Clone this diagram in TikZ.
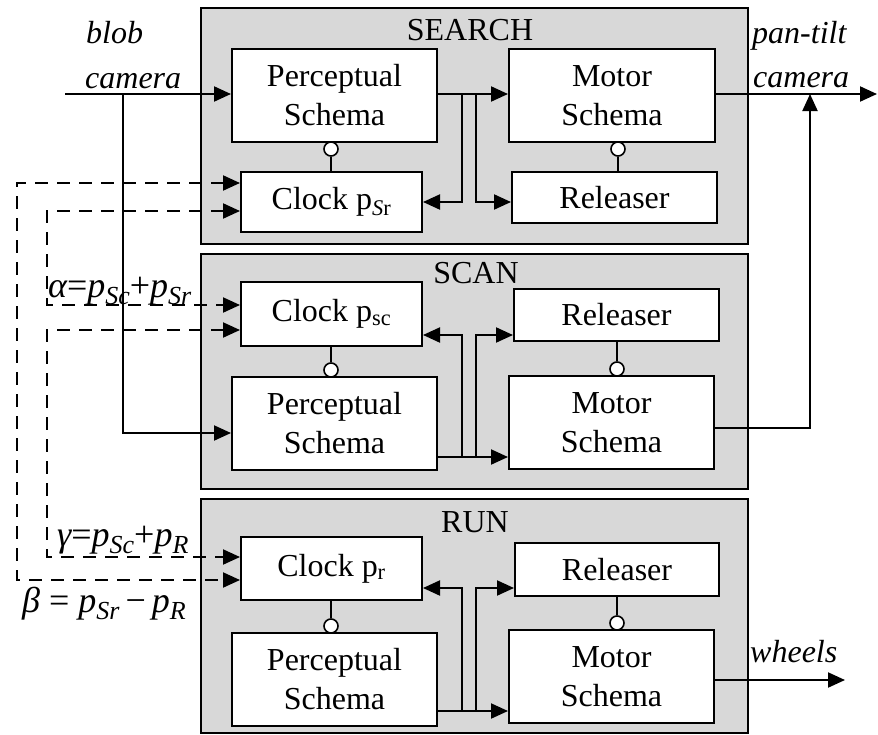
\documentclass[tikz,border=0pt]{standalone}
\usepackage{fontspec}
\setmainfont{Liberation Serif}
\usetikzlibrary{arrows.meta}
\definecolor{panelgray}{RGB}{216,216,216}
% lowered index used in the coupling formulas
\newcommand\lowidx[1]{\raisebox{-0.22em}{\fontsize{26}{26}\selectfont #1}}

\begin{document}
\begin{tikzpicture}[x=1pt,y=-1pt,
  every node/.style={font=\fontsize{32}{39}\selectfont},
  panel/.style={draw,fill=panelgray,line width=2pt,inner sep=0pt,anchor=north west},
  box/.style={draw,fill=white,line width=2pt,align=center,inner sep=0pt},
  knob/.style={circle,draw,fill=white,line width=1.6pt,minimum size=14pt,inner sep=0pt},
  wire/.style={line width=2.1pt},
  link/.style={line width=2.1pt,-{Triangle[length=17pt,width=15pt]}},
  dlink/.style={line width=2.1pt,dash pattern=on 13pt off 9pt,
    {Triangle[length=17pt,width=15pt]}-{Triangle[length=17pt,width=15pt]}},
  lab/.style={font=\fontsize{32}{39}\selectfont\itshape,anchor=base west,inner sep=0pt},
  eqn/.style={font=\fontsize{36}{40}\selectfont\itshape,anchor=base west,inner sep=0pt},
  title/.style={anchor=base,inner sep=0pt}
]
\useasboundingbox (0,0) rectangle (878,734);

% ---------- behaviour panels ----------
\node[panel,minimum width=547pt,minimum height=236pt] (search) at (200,7) {};
\node[panel,minimum width=547pt,minimum height=235pt] (scan) at (200,253) {};
\node[panel,minimum width=547pt,minimum height=234pt] (run) at (200,498) {};
\node[title] (searcht) at (470,40) {SEARCH};
\node[title] (scant) at (476,283) {SCAN};
\node[title] (runt) at (475,532) {RUN};

% ---------- SEARCH ----------
\node[box,minimum width=205pt,minimum height=93pt] (SrP) at (334.5,95.5) {Perceptual\\Schema};
\node[box,minimum width=181pt,minimum height=60pt] (SrC) at (331.5,202) {Clock p\textsubscript{\textit{S}r}};
\node[box,minimum width=206pt,minimum height=93pt] (SrM) at (612,95.5) {Motor\\Schema};
\node[box,minimum width=205pt,minimum height=51pt] (SrR) at (614.5,197.5) {Releaser};
\node[knob] (SrK1) at (331,149) {};
\node[knob] (SrK2) at (618,149) {};
\draw[wire] (SrK1) -- (SrK1 |- SrC.north);
\draw[wire] (SrK2) -- (SrK2 |- SrR.north);

% ---------- SCAN ----------
\node[box,minimum width=181pt,minimum height=64pt] (ScC) at (331.5,314) {Clock p\textsubscript{sc}};
\node[box,minimum width=205pt,minimum height=93pt] (ScP) at (334.5,423.5) {Perceptual\\Schema};
\node[box,minimum width=205pt,minimum height=52pt] (ScR) at (616.5,315) {Releaser};
\node[box,minimum width=205pt,minimum height=93pt] (ScM) at (611.5,422.5) {Motor\\Schema};
\node[knob] (ScK1) at (331,370) {};
\node[knob] (ScK2) at (617,369) {};
\draw[wire] (ScK1) -- (ScK1 |- ScC.south);
\draw[wire] (ScK2) -- (ScK2 |- ScR.south);

% ---------- RUN ----------
\node[box,minimum width=181pt,minimum height=63pt] (RC) at (331.5,568.5) {Clock p\textsubscript{r}};
\node[box,minimum width=205pt,minimum height=93pt] (RP) at (334.5,679.5) {Perceptual\\Schema};
\node[box,minimum width=204pt,minimum height=53pt] (RR) at (617,569.5) {Releaser};
\node[box,minimum width=205pt,minimum height=93pt] (RM) at (611.5,676.5) {Motor\\Schema};
\node[knob] (RK1) at (331,626) {};
\node[knob] (RK2) at (617,623) {};
\draw[wire] (RK1) -- (RK1 |- RC.south);
\draw[wire] (RK2) -- (RK2 |- RR.south);

% ---------- sensor inputs ----------
\coordinate (blobin) at (65,94);
\coordinate (tap) at (123,94);
\draw[link] (blobin) -- (SrP.west |- blobin);
\draw[link] (tap) |- (ScP.west |- 0,433);
\node[lab] (blobl) at (86,43) {blob};
\node[lab] (caml) at (85,88) {camera};

% ---------- perceptual -> motor and releaser/clock taps ----------
\coordinate (SrJ1) at (462,94);
\coordinate (SrJ2) at (476,94);
\draw[link] (SrP.east |- 0,94) -- (SrM.west |- 0,94);
\draw[link] (SrJ1) |- (SrC.east);
\draw[link] (SrJ2) |- (SrR.west |- SrC.east);

\coordinate (ScJ1) at (462,457);
\coordinate (ScJ2) at (476,457);
\draw[link] (ScP.east |- 0,457) -- (ScM.west |- 0,457);
\draw[link] (ScJ1) |- (ScC.east |- 0,335);
\draw[link] (ScJ2) |- (ScR.west |- 0,335);

\coordinate (RJ1) at (462,711);
\coordinate (RJ2) at (476,711);
\draw[link] (RP.east |- 0,711) -- (RM.west |- 0,711);
\draw[link] (RJ1) |- (RC.east |- 0,588);
\draw[link] (RJ2) |- (RR.west |- 0,588);

% ---------- actuator outputs ----------
\coordinate (camout) at (877,94);
\coordinate (ptjoin) at (810,94);
\draw[link] (SrM.east |- camout) -- (camout);
\draw[link] (ScM.east |- 0,428) -| (ptjoin);
\node[lab] (ptl) at (752,43) {pan-tilt};
\node[lab] (cam2l) at (753,87) {camera};

\coordinate (whout) at (845,680);
\draw[link] (RM.east |- whout) -- (whout);
\node[lab] (whl) at (750,662) {wheels};

% ---------- clock couplings ----------
\draw[dlink] (SrC.west |- 0,183) -- (17,183) -- (17,580) -- (RC.west |- 0,580);
\draw[dlink] (SrC.west |- 0,211) -- (47,211) -- (47,305) -- (ScC.west |- 0,305);
\draw[dlink] (ScC.west |- 0,330) -- (47,330) -- (47,557) -- (RC.west |- 0,557);

\node[eqn] (alphal) at (48,297) {α\upshape=\itshape p\lowidx{Sc}\upshape+\itshape p\lowidx{Sr}};
\node[eqn] (gammal) at (57,546) {γ\upshape=\itshape p\lowidx{Sc}\upshape+\itshape p\lowidx{R}};
\node[eqn] (betal) at (22,612) {β \upshape=\itshape\ p\lowidx{Sr}\,\upshape−\,\itshape p\lowidx{R}};
\end{tikzpicture}
\end{document}
